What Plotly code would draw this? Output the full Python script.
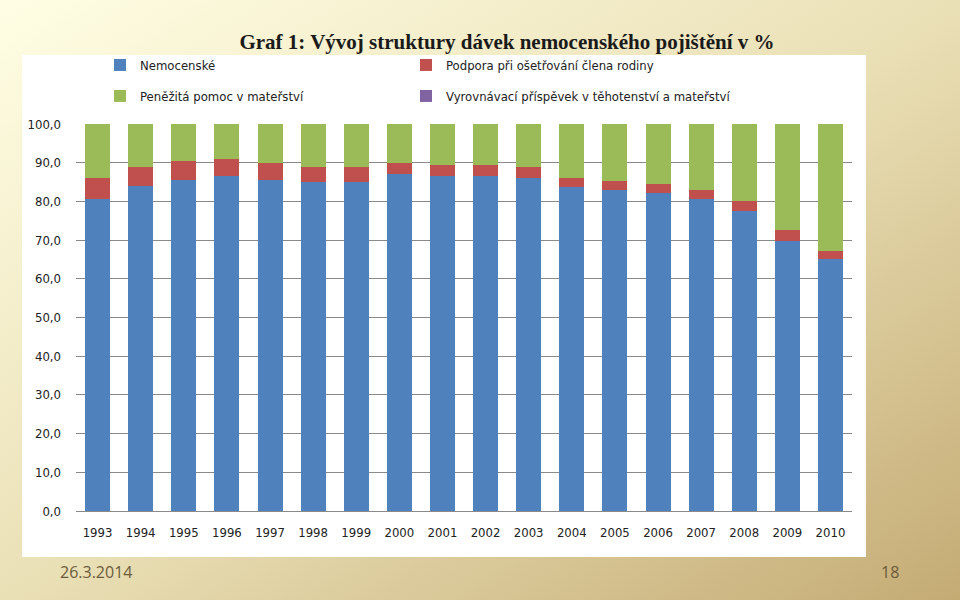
import base64
import plotly.graph_objects as go

years = ["1993", "1994", "1995", "1996", "1997", "1998", "1999", "2000", "2001",
         "2002", "2003", "2004", "2005", "2006", "2007", "2008", "2009", "2010"]

series_names = ["Nemocenské",
                "Podpora při ošetřování člena rodiny",
                "Peněžitá pomoc v mateřství",
                "Vyrovnávací příspěvek v těhotenství a mateřství"]

nemocenske = [80.5, 84.0, 85.5, 86.6, 85.5, 84.9, 84.9, 87.0, 86.6,
              86.6, 86.0, 83.6, 83.0, 82.1, 80.5, 77.6, 69.8, 65.1]
podpora = [5.5, 5.0, 4.9, 4.4, 4.5, 4.1, 4.1, 3.0, 2.8,
           2.8, 3.0, 2.4, 2.4, 2.4, 2.5, 2.4, 2.9, 2.1]
penezita = [14.0, 11.0, 9.6, 9.0, 10.0, 11.0, 11.0, 10.0, 10.6,
            10.6, 11.0, 14.0, 14.6, 15.5, 17.0, 20.0, 27.3, 32.8]
vyrovnavaci = [0.0, 0.0, 0.0, 0.0, 0.0, 0.0, 0.0, 0.0, 0.0,
               0.0, 0.0, 0.0, 0.0, 0.0, 0.0, 0.0, 0.0, 0.0]

y_ticks = [0, 10, 20, 30, 40, 50, 60, 70, 80, 90, 100]

colors = ["#4F81BD", "#C0504D", "#9BBB59", "#8064A2"]
values = [nemocenske, podpora, penezita, vyrovnavaci]
legend_ids = ["legend", "legend2", "legend3", "legend4"]

W, H = 960, 600
ML, MR, MT, MB = 76, 108, 124, 89
PW, PH = W - ML - MR, H - MT - MB


def px_to_paper_x(px):
    return (px - ML) / PW


def px_to_paper_y(py):
    return (H - MB - py) / PH


FONT = "DejaVu Sans Condensed, Liberation Sans Narrow, Arial"
tick_font = dict(family=FONT, size=13, color="#222222")

fig = go.Figure()
for name, vals, col, lg in zip(series_names, values, colors, legend_ids):
    fig.add_trace(go.Bar(x=years, y=vals, name=name, marker=dict(color=col, line=dict(width=0)),
                         legend=lg, showlegend=True))

svg = f'''<svg xmlns="http://www.w3.org/2000/svg" width="{W}" height="{H}" viewBox="0 0 {W} {H}" preserveAspectRatio="none">
<defs><linearGradient id="g" x1="0" y1="0" x2="1" y2="1">
<stop offset="0" stop-color="#FFFEE4"/>
<stop offset="0.5" stop-color="#EAE0B6"/>
<stop offset="1" stop-color="#C4AB74"/>
</linearGradient></defs>
<rect width="{W}" height="{H}" fill="url(#g)"/></svg>'''
src = "data:image/svg+xml;base64," + base64.b64encode(svg.encode()).decode()

legend_common = dict(orientation="h", xanchor="left", yanchor="middle",
                     bgcolor="rgba(0,0,0,0)",
                     font=dict(family=FONT, size=13, color="#222222"),
                     itemclick=False)
legend_pos = {"legend": (100, 65), "legend2": (406, 65), "legend3": (100, 96), "legend4": (406, 96)}
legend_layout = {k: dict(x=px_to_paper_x(px), y=px_to_paper_y(py), **legend_common)
                 for k, (px, py) in legend_pos.items()}

fig.update_layout(
    width=W, height=H,
    margin=dict(l=ML, r=MR, t=MT, b=MB),
    showlegend=True,
    barmode="stack",
    bargap=0.42,
    separators=",.",
    paper_bgcolor="#EFE6C2",
    plot_bgcolor="rgba(0,0,0,0)",
    images=[dict(source=src, xref="paper", yref="paper",
                 x=px_to_paper_x(0), y=px_to_paper_y(0),
                 sizex=W / PW, sizey=H / PH, sizing="stretch",
                 xanchor="left", yanchor="top", layer="below")],
    shapes=[dict(type="rect", xref="paper", yref="paper",
                 x0=px_to_paper_x(22), x1=px_to_paper_x(866),
                 y0=px_to_paper_y(557), y1=px_to_paper_y(55),
                 fillcolor="white", line=dict(width=0), layer="below")],
    title=dict(text="<b>Graf 1: Vývoj struktury dávek nemocenského pojištění v %</b>",
               x=507 / W, xanchor="center", y=1 - 42 / H, yanchor="middle",
               font=dict(family="Liberation Serif, Times New Roman, serif", size=21, color="#1a1a1a")),
    xaxis=dict(type="category", showgrid=False, ticks="", tickfont=tick_font,
               ticklabelstandoff=12, showline=False, zeroline=False),
    yaxis=dict(range=[0, 100], tickvals=y_ticks, tickformat=".1f", ticks="",
               tickfont=tick_font, ticklabelstandoff=14,
               showgrid=True, gridcolor="#8A8A8A", gridwidth=1,
               zeroline=True, zerolinecolor="#8A8A8A", zerolinewidth=1, showline=False),
    annotations=[
        dict(text="26.3.2014", xref="paper", yref="paper", x=px_to_paper_x(58), y=px_to_paper_y(572),
             xanchor="left", yanchor="middle", showarrow=False,
             font=dict(family="Open Sans, Noto Sans, sans-serif", size=16, color="#6B5B3B")),
        dict(text="18", xref="paper", yref="paper", x=px_to_paper_x(901), y=px_to_paper_y(572),
             xanchor="right", yanchor="middle", showarrow=False,
             font=dict(family="Open Sans, Noto Sans, sans-serif", size=16, color="#6B5B3B")),
    ],
    **legend_layout,
)

fig.write_html("out.html")
